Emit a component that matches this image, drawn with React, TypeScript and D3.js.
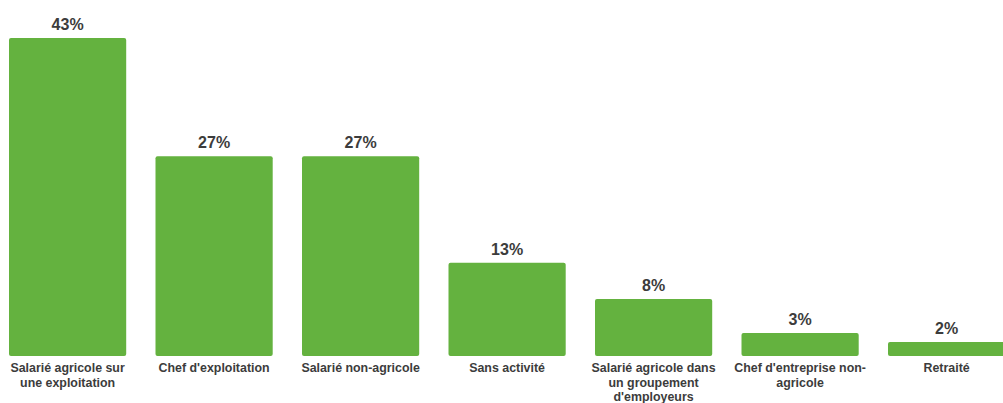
import React, { useEffect, useRef } from "react";
import * as d3 from "d3";

const categories = [
  "Salarié agricole sur\nune exploitation",
  "Chef d'exploitation",
  "Salarié non-agricole",
  "Sans activité",
  "Salarié agricole dans\nun groupement\nd'employeurs",
  "Chef d'entreprise non-\nagricole",
  "Retraité",
];
const values = [43, 27, 27, 12.6, 7.7, 3.1, 1.9];

const W = 1003;
const H = 403;

export default function App() {
  const ref = useRef<SVGSVGElement>(null);
  useEffect(() => {
    const svg = d3.select(ref.current);
    svg.selectAll("*").remove();
    const x = d3
      .scaleBand<string>()
      .domain(categories)
      .range([-5.65, -5.65 + 7 * 146.5])
      .paddingInner(0.2)
      .paddingOuter(0.1);
    const y = d3.scaleLinear().domain([0, 43]).range([356, 38]);
    const fmt = (v: number) => `${Math.round(v)}%`;

    const g = svg.append("g");
    g.selectAll("rect")
      .data(values)
      .join("rect")
      .attr("x", (_, i) => x(categories[i])!)
      .attr("y", (d) => y(d))
      .attr("width", x.bandwidth())
      .attr("height", (d) => y(0) - y(d))
      .attr("rx", 2)
      .attr("fill", "#64b23f");

    g.selectAll("text.val")
      .data(values)
      .join("text")
      .attr("class", "val")
      .attr("x", (_, i) => x(categories[i])! + x.bandwidth() / 2)
      .attr("y", (d) => y(d) - 8)
      .attr("text-anchor", "middle")
      .attr("font-family", "'Liberation Sans', Arial, sans-serif")
      .attr("font-weight", "bold")
      .attr("font-size", 16)
      .attr("fill", "#3c3c3c")
      .text((d) => fmt(d));

    const labels = g
      .selectAll("text.cat")
      .data(categories)
      .join("text")
      .attr("class", "cat")
      .attr("x", (d) => x(d)! + x.bandwidth() / 2)
      .attr("y", 372)
      .attr("text-anchor", "middle")
      .attr("font-family", "'Liberation Sans', Arial, sans-serif")
      .attr("font-weight", "bold")
      .attr("font-size", 12.4)
      .attr("fill", "#3c3c3c");
    labels.each(function (d) {
      const t = d3.select(this);
      d.split("\n").forEach((line, i) => {
        t.append("tspan")
          .attr("x", x(d)! + x.bandwidth() / 2)
          .attr("dy", i === 0 ? 0 : 14.5)
          .text(line);
      });
    });
  }, []);
  return (
    <svg
      ref={ref}
      width={W}
      height={H}
      style={{ position: "absolute", left: 0, top: 0, background: "#fff" }}
    />
  );
}
